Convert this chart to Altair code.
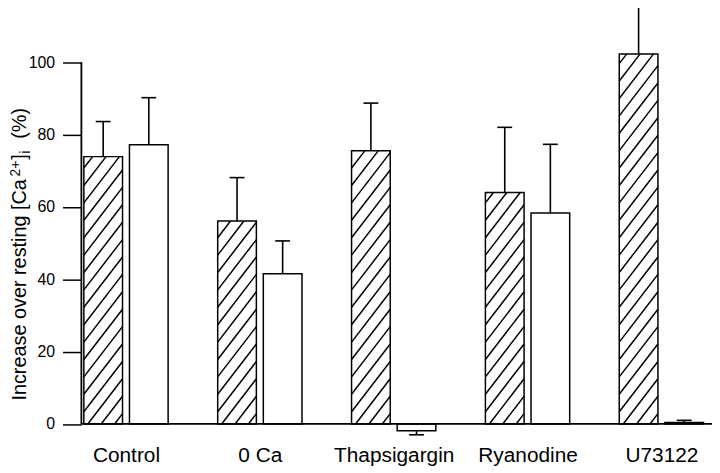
import altair as alt
import pandas as pd
import numpy as np

# ---- data ----
categories = ["Control", "0 Ca", "Thapsigargin", "Ryanodine", "U73122"]
hatched_mean = [73.9, 56.1, 75.5, 64.0, 102.3]
hatched_err = [9.7, 12.0, 13.2, 18.0, 13.6]
open_mean = [77.2, 41.5, -1.9, 58.3, 0.4]
open_err = [13.0, 9.1, 1.1, 19.0, 0.6]
y_ticks = [0, 20, 40, 60, 80, 100]
title_parts = ["Increase over resting [Ca", "2+", "]", "i", "(%)"]

# ---- layout ----
W, H = 636, 432
XDOM = [-0.3333, 4.378]
YDOM = [-3.97, 114.45]
PX_X = W / (XDOM[1] - XDOM[0])
PX_Y = H / (YDOM[1] - YDOM[0])
OFF = 23 / PX_X
HALF = 19.5 / PX_X
CAP = 7.5 / PX_X

rows = []
for i, c in enumerate(categories):
    for s, m, e, d in (("hatched", hatched_mean[i], hatched_err[i], -1),
                       ("open", open_mean[i], open_err[i], 1)):
        cx = i + d * OFF
        end = m + (e if m >= 0 else -e)
        rows.append(dict(cat=c, series=s, mean=m, end=end, cx=cx,
                         xl=cx - HALF, xr=cx + HALF,
                         cl=cx - CAP, cr=cx + CAP, zero=0.0))
bars = pd.DataFrame(rows)

# hatch segments for the hatched bars (derived from bar geometry)
slope = 1.3
hp = 13.5
segs = []
for _, r in bars[bars.series == "hatched"].iterrows():
    w = (r.xr - r.xl) * PX_X
    h = r["mean"] * PX_Y
    kmin = int(np.floor(-(h / slope) / hp)) - 1
    kmax = int(np.ceil(w / hp)) + 1
    for k in range(kmin, kmax + 1):
        xk = k * hp + 4
        a = max(0.0, xk)
        b = min(w, xk + h / slope)
        if b - a < 0.5:
            continue
        ya = slope * (a - xk)
        yb = slope * (b - xk)
        segs.append(dict(x=r.xl + a / PX_X, x2=r.xl + b / PX_X,
                         y=ya / PX_Y, y2=yb / PX_Y))
hatch = pd.DataFrame(segs)

xs = alt.Scale(domain=XDOM, nice=False, zero=False)
ys = alt.Scale(domain=YDOM, nice=False, zero=False)
FONT = "Liberation Sans"

label_expr = "[" + ",".join("'%s'" % c for c in categories) + "][datum.value]"

bar_layer = alt.Chart(bars).mark_bar(
    fill="white", stroke="black", strokeWidth=1.5
).encode(
    x=alt.X("xl:Q", scale=xs, axis=alt.Axis(
        values=list(range(len(categories))), labelExpr=label_expr,
        ticks=False, tickSize=0, domain=False, grid=False,
        labelFontSize=21, labelFont=FONT, labelColor="black",
        labelPadding=6, title=None, labelFlush=False, labelOverlap=False)),
    x2="xr:Q",
    y=alt.Y("zero:Q", scale=ys, axis=alt.Axis(
        values=y_ticks, tickSize=19, tickWidth=1.5, tickColor="black",
        domain=False, grid=False, labelFontSize=16, labelFont=FONT,
        labelColor="black", labelPadding=8, title=None)),
    y2="mean:Q",
)

hatch_layer = alt.Chart(hatch).mark_rule(color="black", strokeWidth=1.5).encode(
    x=alt.X("x:Q", scale=xs),
    x2="x2:Q",
    y=alt.Y("y:Q", scale=ys),
    y2="y2:Q",
)

err_layer = alt.Chart(bars).mark_rule(color="black", strokeWidth=1.6).encode(
    x=alt.X("cx:Q", scale=xs),
    y=alt.Y("mean:Q", scale=ys),
    y2="end:Q",
)

cap_layer = alt.Chart(bars).mark_rule(color="black", strokeWidth=1.6).encode(
    x=alt.X("cl:Q", scale=xs),
    x2="cr:Q",
    y=alt.Y("end:Q", scale=ys),
)

axis_df = pd.DataFrame({"y0": [0.0], "y1": [100.0]})
yaxis_line = alt.Chart(axis_df).mark_rule(color="black", strokeWidth=1.8).encode(
    x=alt.value(0),
    y=alt.Y("y0:Q", scale=ys),
    y2="y1:Q",
)
xaxis_line = alt.Chart(axis_df).mark_rule(color="black", strokeWidth=1.8).encode(
    x=alt.value(0),
    x2=alt.value(W),
    y=alt.Y("y0:Q", scale=ys),
)

# rotated y-axis title built from pieces (superscript / subscript)
one = pd.DataFrame({"k": [0]})
TFS = 20
SFS = 14
BASE_X = -56
# (text, font size, baseline x, start y) -- text runs upward from start y
title_layout = [
    (title_parts[0], TFS, BASE_X, 394),
    (title_parts[1], SFS, BASE_X - 6, 168),
    (title_parts[2], TFS, BASE_X, 151),
    (title_parts[3], SFS, BASE_X + 4, 145),
    (title_parts[4], TFS, BASE_X, 130),
]
title_layers = [
    alt.Chart(one).mark_text(
        angle=270, align="left", baseline="alphabetic",
        font=FONT, fontSize=fs, color="black"
    ).encode(x=alt.value(bx), y=alt.value(sy), text=alt.value(t))
    for t, fs, bx, sy in title_layout
]

chart = alt.layer(
    bar_layer, hatch_layer, err_layer, cap_layer, yaxis_line, xaxis_line,
    *title_layers
).properties(
    width=W, height=H,
    autosize=alt.AutoSizeParams(type="none"),
    padding={"left": 74, "top": 0, "right": 0, "bottom": 30},
    background="white",
).configure_view(stroke=None)

chart.save("out.html", embed_options={"renderer": "svg", "actions": False})
